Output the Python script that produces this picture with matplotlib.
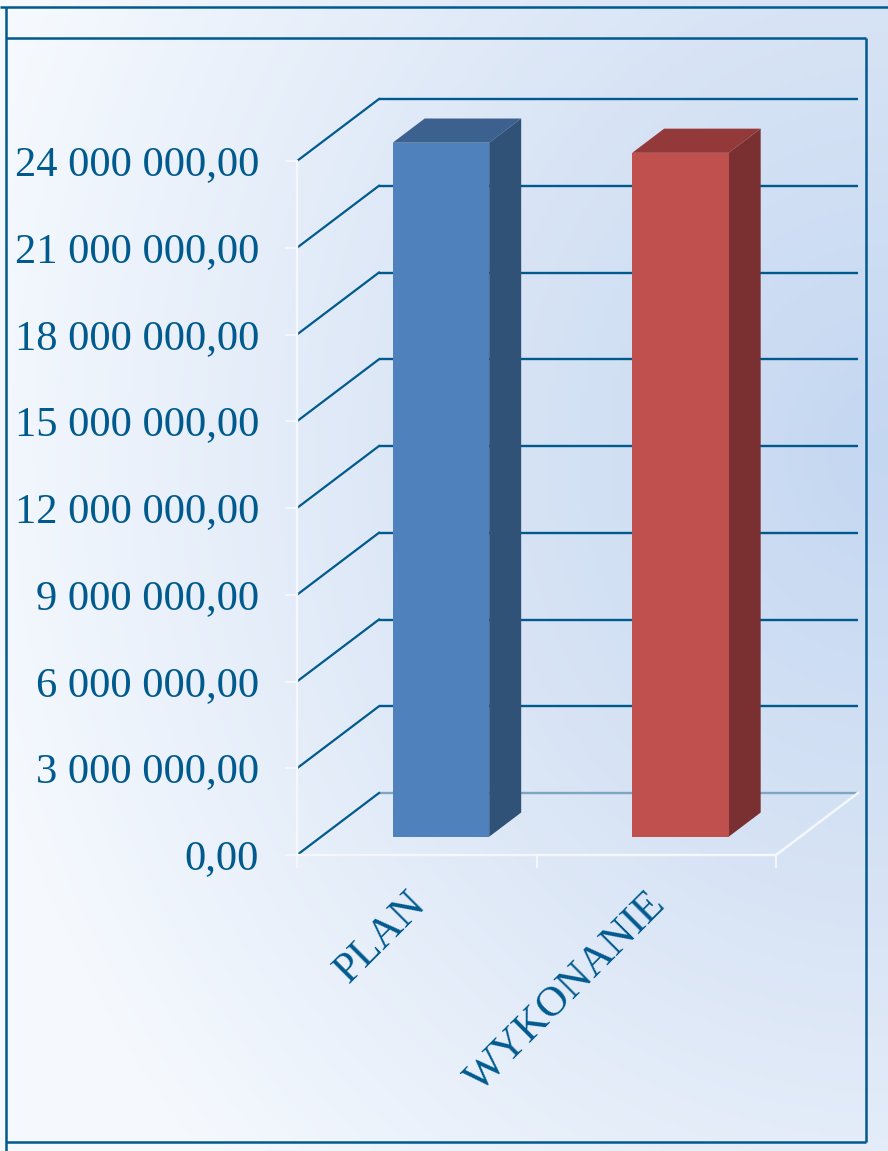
from matplotlib import pyplot as plt
from matplotlib.colors import LinearSegmentedColormap
from matplotlib.transforms import ScaledTranslation
import numpy as np

categories = ['PLAN', 'WYKONANIE']
values = [24000000, 23650000]
y_ticks = [0, 3000000, 6000000, 9000000, 12000000, 15000000, 18000000, 21000000, 24000000]
y_labels = ['0,00', '3 000 000,00', '6 000 000,00', '9 000 000,00', '12 000 000,00',
            '15 000 000,00', '18 000 000,00', '21 000 000,00', '24 000 000,00']

front_colors = ['#4F81BD', '#C0504D']
top_colors = ['#3C618F', '#93393A']
side_colors = ['#315277', '#7A3030']
blue = '#005A8E'
white = '#F4F7FC'

W, H = 888, 1151
LEFT, RIGHT, TOP, BOTTOM = 297, 776, 161, 855
DEPTH_PX = (82, 62)
BAR_WIDTH = 0.403
BAR_DEPTH = (0.295, 0.685)

plt.rcParams['font.family'] = ['Liberation Serif', 'DejaVu Serif']

fig = plt.figure(figsize=(W / 100, H / 100), dpi=100)

# page background and the frame, in pixel coordinates
bg = fig.add_axes([0, 0, 1, 1])
bg.set_axis_off()
xx, yy = np.meshgrid(np.linspace(0, W, 222), np.linspace(0, H, 288))
shade = np.clip(np.hypot((W - xx) / W, (yy - 450) / 1000) / 1.05, 0, 1)
cmap = LinearSegmentedColormap.from_list('page', ['#C4D7F1', '#DBE6F6', '#F5F9FE'])
bg.imshow(shade, cmap=cmap, extent=[0, W, H, 0], aspect='auto', vmin=0, vmax=1)
frame_lines = [((0, W), (7, 7)), ((6, 866), (38, 38)), ((6, 866), (1142, 1142)),
               ((6, 6), (7, H)), ((866, 866), (38, 1142))]
for fx, fy in frame_lines:
    bg.plot(fx, fy, color=blue, lw=1.8, solid_capstyle='butt')
bg.set_xlim(0, W)
bg.set_ylim(H, 0)

ax = fig.add_axes([LEFT / W, 1 - BOTTOM / H, (RIGHT - LEFT) / W, (BOTTOM - TOP) / H])
ax.patch.set_alpha(0)
ax.set_xlim(0, len(categories))
ax.set_ylim(0, 24000000)

x_unit = DEPTH_PX[0] / (RIGHT - LEFT) * len(categories)
y_unit = DEPTH_PX[1] / (BOTTOM - TOP) * 24000000


def project(x, y, depth):
    return x + depth * x_unit, y + depth * y_unit


# walls: back gridlines with their slanted part on the side wall
top_x, _ = project(len(categories), 0, 1)
for tick in y_ticks:
    bx, by = project(0, tick, 1)
    line_color = '#7FA6C0' if tick == 0 else blue
    ax.plot([bx, top_x], [by, by], color=line_color, lw=1.7, clip_on=False, zorder=1,
            solid_capstyle='butt')
    ax.plot([0, bx], [tick, by], color=blue, lw=1.6, clip_on=False, zorder=1)

# floor edge on the right
ex, ey = project(len(categories), 0, 1)
ax.plot([len(categories), ex], [0, ey], color=white, lw=1.8, clip_on=False, zorder=1)

# bars
for i, val in enumerate(values):
    c = i + 0.5
    x0, y0 = project(c - BAR_WIDTH / 2, 0, BAR_DEPTH[0])
    x1, y1 = project(c + BAR_WIDTH / 2, val, BAR_DEPTH[0])
    bx0, by0 = project(c - BAR_WIDTH / 2, 0, BAR_DEPTH[1])
    bx1, by1 = project(c + BAR_WIDTH / 2, val, BAR_DEPTH[1])
    ax.fill([x0, x1, bx1, bx0], [y1, y1, by1, by1], color=top_colors[i], lw=0, clip_on=False, zorder=2)
    ax.fill([x1, bx1, bx1, x1], [y0, by0, by1, y1], color=side_colors[i], lw=0, clip_on=False, zorder=2)
    ax.bar(x0, y1 - y0, bottom=y0, width=x1 - x0, align='edge', color=front_colors[i], lw=0,
           clip_on=False, zorder=3)

for side in ['top', 'right']:
    ax.spines[side].set_visible(False)
for side in ['left', 'bottom']:
    ax.spines[side].set_color(white)
    ax.spines[side].set_linewidth(1.7)

ax.set_yticks(y_ticks)
ax.set_yticklabels(y_labels)
ax.tick_params(axis='y', length=9, width=1.4, color=white, labelcolor=blue, labelsize=30.6, pad=18.3)
for label in ax.get_yticklabels():
    label.set_verticalalignment('center')
    label.set_transform(label.get_transform() + ScaledTranslation(0, -4 / 100, fig.dpi_scale_trans))

ax.set_xticks(range(len(categories) + 1))
ax.set_xticklabels([])
ax.tick_params(axis='x', which='major', length=9, width=1.4, color=white)
ax.set_xticks([i + 0.5 for i in range(len(categories))], minor=True)
ax.set_xticklabels(categories, minor=True, rotation=45, ha='right', va='top',
                   rotation_mode='anchor', fontsize=30.6, color=blue)
ax.tick_params(axis='x', which='minor', length=0, pad=21)
for label in ax.get_xticklabels(minor=True):
    label.set_transform(label.get_transform() + ScaledTranslation(-10 / 100, 0, fig.dpi_scale_trans))

fig.savefig('out.png', dpi=100)
